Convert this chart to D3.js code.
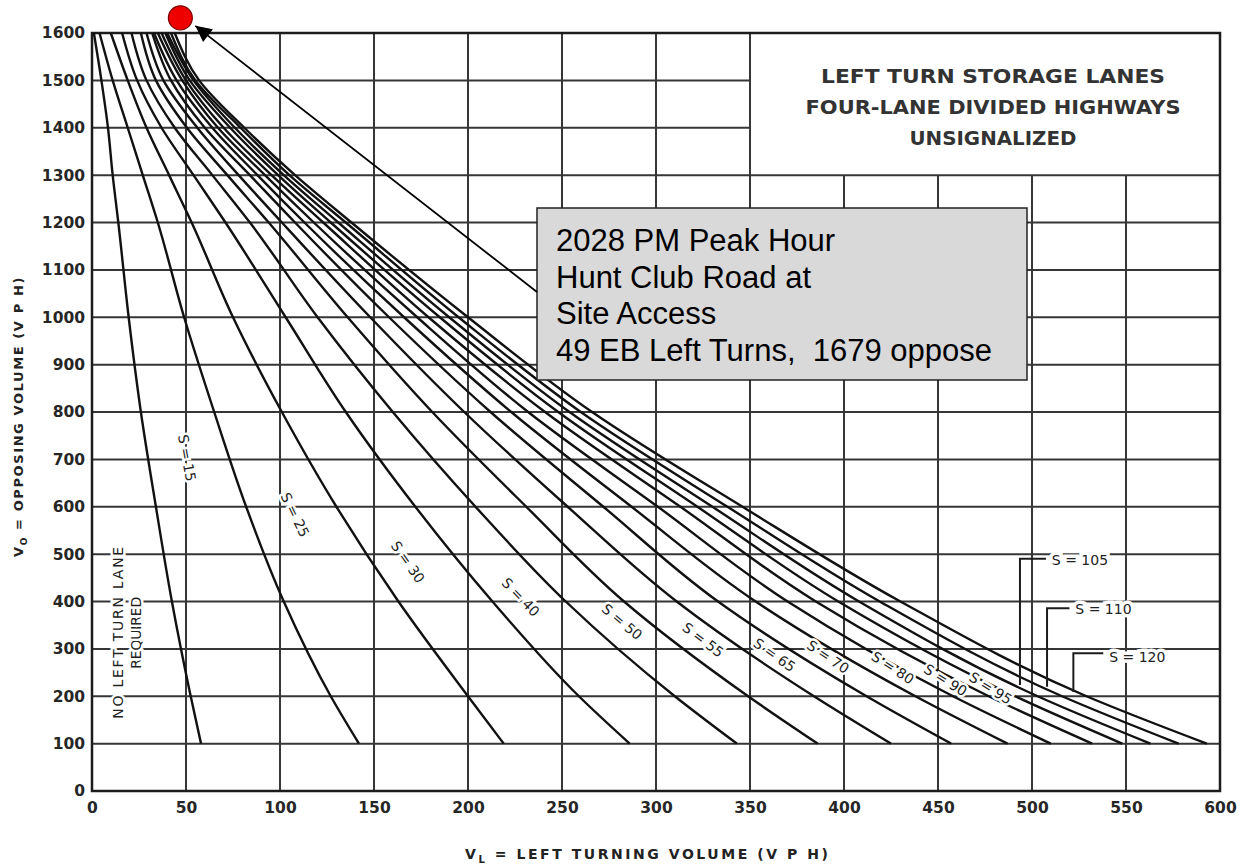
<!DOCTYPE html>
<html><head><meta charset="utf-8">
<script src="https://cdn.jsdelivr.net/npm/d3@7/dist/d3.min.js"></script>
<style>body{margin:0;background:#fff;} svg{display:block;}</style>
</head><body>
<svg id="chart" width="1241" height="867"></svg>
<script>
// ---------- data ----------
const opposingLevels = [1600, 1500, 1400, 1300, 1200, 1000, 800, 600, 400, 200, 100];
const vlBoundary = [1, 5, 8.5, 11, 14, 19.5, 26, 34, 42.5, 52.5, 58];
const vlS15  = [4, 11, 19, 27, 35, 49, 65, 82, 102, 127, 142];
const vlS25  = [10, 19, 29, 41, 53, 75, 101, 130, 163, 200, 219];
const vlS30  = [16, 24, 37, 54, 71, 103, 135, 172, 213, 259, 286];
const vlS40  = [21, 29, 44, 64, 84, 120, 160, 204, 252, 310, 343];
const vlS50  = [26, 34, 50.5, 72, 94, 136, 181, 231, 283, 349, 386];
const vlS55  = [29, 38, 56, 78, 101, 148, 198, 253, 311, 384, 425];
const vlS65  = [32, 42, 60, 84, 108, 158, 212, 272, 333, 412, 457];
const vlS70  = [33, 45, 64, 88, 113, 166, 223, 287, 353, 438, 487];
const vlS80  = [35, 48, 67, 92, 118, 173, 232, 301, 370, 458, 510];
const vlS90  = [37, 50, 70, 95.5, 123, 179, 241, 313, 385, 477, 532];
const vlS95  = [39, 52, 73.5, 99, 127, 185, 248, 322, 397, 491, 548];
const vlS105 = [40, 54, 76, 102, 131, 190, 254, 330, 408, 503, 563];
const vlS110 = [42, 55, 79, 105, 135, 195, 260, 338, 419, 516, 578];
const vlS120 = [44, 57, 81, 108, 138, 200, 266, 346, 430, 529, 593];
const curveSeries = [vlBoundary, vlS15, vlS25, vlS30, vlS40, vlS50, vlS55, vlS65, vlS70, vlS80, vlS90, vlS95, vlS105, vlS110, vlS120];

const xTickValues = [0, 50, 100, 150, 200, 250, 300, 350, 400, 450, 500, 550, 600];
const yTickValues = [0, 100, 200, 300, 400, 500, 600, 700, 800, 900, 1000, 1100, 1200, 1300, 1400, 1500, 1600];

// curve labels placed along the curves: [text, VL, VO, angle]
const slopedLabels = [
  ["S = 15", 50.5, 703, 80], ["S = 25", 108, 583, 64], ["S = 30", 168, 483, 55],
  ["S = 40", 228, 409, 46], ["S = 50", 282, 357, 40], ["S = 55", 325, 319, 37],
  ["S = 65", 363, 287, 35], ["S = 70", 391.5, 283, 34], ["S = 80", 426, 260, 33],
  ["S = 90", 454, 234, 32], ["S = 95", 478, 217, 32]
];
// bracket labels: [text, labelVL, labelVO, cornerVO(text line), legVL, legEndVO]
const bracketLabels = [
  ["S = 105", 525.5, 488, 490, 493.6, 224],
  ["S = 110", 538, 384, 386, 508, 220],
  ["S = 120", 556, 283, 291, 522, 209]
];
const studyPoint = {vl: 47, vo: 1632};
const titleLines = ["LEFT TURN STORAGE LANES", "FOUR-LANE DIVIDED HIGHWAYS", "UNSIGNALIZED"];
const noteLines = ["2028 PM Peak Hour", "Hunt Club Road at", "Site Access", "49 EB Left Turns,  1679 oppose"];

// ---------- drawing ----------
const svg = d3.select("#chart");
const x = d3.scaleLinear().domain([0, 600]).range([92, 1220]);
const y = d3.scaleLinear().domain([0, 1600]).range([791, 33]);
const ink = "#1c1c1c", gridInk = "#363636";
const font = "'DejaVu Sans', 'Liberation Sans', sans-serif";

svg.append("rect").attr("width", 1241).attr("height", 867).attr("fill", "#fff");

// grid (title region in the top-right is left blank)
const grid = svg.append("g").attr("stroke", gridInk).attr("stroke-width", 2);
grid.selectAll("line.v").data(xTickValues).join("line").attr("class", "v")
  .attr("x1", d => x(d)).attr("x2", d => x(d))
  .attr("y1", y(0)).attr("y2", d => (d > 350 && d < 600) ? y(1300) : y(1600));
grid.selectAll("line.h").data(yTickValues).join("line").attr("class", "h")
  .attr("y1", d => y(d)).attr("y2", d => y(d))
  .attr("x1", x(0)).attr("x2", d => (d > 1300 && d < 1600) ? x(350) : x(600));
svg.append("rect").attr("x", x(0)).attr("y", y(1600)).attr("width", x(600) - x(0)).attr("height", y(0) - y(1600))
  .attr("fill", "none").attr("stroke", ink).attr("stroke-width", 2.5);

// axes (labels only)
const xAxis = svg.append("g").attr("transform", `translate(0,${y(0)})`)
  .call(d3.axisBottom(x).tickValues(xTickValues).tickFormat(d3.format("d")).tickSize(0).tickPadding(11));
const yAxis = svg.append("g").attr("transform", `translate(${x(0)},0)`)
  .call(d3.axisLeft(y).tickValues(yTickValues).tickFormat(d3.format("d")).tickSize(0).tickPadding(7));
[xAxis, yAxis].forEach(g => {
  g.select(".domain").remove();
  g.selectAll("text").attr("font-family", font).attr("font-size", 15.5).attr("font-weight", "bold").attr("fill", "#262626");
});

// curves
const line = d3.line().x(d => x(d[0])).y(d => y(d[1])).curve(d3.curveMonotoneY);
svg.append("g").selectAll("path").data(curveSeries).join("path")
  .attr("d", s => line(s.map((v, i) => [v, opposingLevels[i]])))
  .attr("fill", "none").attr("stroke", "#111").attr("stroke-width", 2.4);

// sloped labels
svg.append("g").selectAll("text").data(slopedLabels).join("text")
  .attr("transform", d => `translate(${x(d[1])},${y(d[2])}) rotate(${d[3]})`)
  .attr("text-anchor", "middle").attr("dy", "0.35em")
  .attr("font-family", font).attr("font-size", 14).attr("fill", "#222")
  .attr("stroke", "#fff").attr("stroke-width", 5).attr("paint-order", "stroke")
  .text(d => d[0]);

// bracket labels
const br = svg.append("g");
bracketLabels.forEach(d => {
  br.append("path")
    .attr("d", `M${x(d[1]) - 34},${y(d[3])} H${x(d[4])} V${y(d[5])}`)
    .attr("fill", "none").attr("stroke", ink).attr("stroke-width", 2);
  br.append("text").attr("x", x(d[1])).attr("y", y(d[2])).attr("dy", "0.35em")
    .attr("text-anchor", "middle").attr("font-family", font).attr("font-size", 14).attr("fill", "#222")
    .attr("stroke", "#fff").attr("stroke-width", 7).attr("paint-order", "stroke")
    .text(d[0]);
});

// "no left turn lane required"
const nl = svg.append("g").attr("font-family", font).attr("font-size", 14).attr("fill", "#222")
  .attr("stroke", "#fff").attr("stroke-width", 5).attr("paint-order", "stroke").attr("text-anchor", "middle");
nl.append("text").attr("transform", `translate(${x(13.8)},${y(334)}) rotate(-90)`).attr("dy", "0.35em")
  .attr("textLength", 172).attr("lengthAdjust", "spacing").text("NO LEFT TURN LANE");
nl.append("text").attr("transform", `translate(${x(23.4)},${y(334)}) rotate(-90)`).attr("dy", "0.35em")
  .attr("textLength", 72).attr("lengthAdjust", "spacing").text("REQUIRED");

// title block
const tg = svg.append("g").attr("font-family", font).attr("font-size", 20).attr("font-weight", "bold")
  .attr("fill", "#333").attr("text-anchor", "middle");
const titleWidths = [344, 375, 167];
titleLines.forEach((t, i) => {
  tg.append("text").attr("x", 993).attr("y", 83 + i * 31)
    .attr("textLength", titleWidths[i]).attr("lengthAdjust", "spacingAndGlyphs").text(t);
});

// axis titles
const xt = svg.append("text").attr("x", 465).attr("y", 859).attr("font-family", font).attr("font-size", 14)
  .attr("font-weight", "bold").attr("fill", "#222").attr("letter-spacing", 2.55);
xt.append("tspan").text("V");
xt.append("tspan").attr("font-size", 10).attr("dy", 4).text("L");
xt.append("tspan").attr("dy", -4).text(" = LEFT  TURNING  VOLUME  (V P H)");
const yt = svg.append("text").attr("transform", "translate(23,557) rotate(-90)").attr("font-family", font).attr("font-size", 13)
  .attr("font-weight", "bold").attr("fill", "#222").attr("letter-spacing", 1.6);
yt.append("tspan").text("V");
yt.append("tspan").attr("font-size", 9).attr("dy", 4).text("O");
yt.append("tspan").attr("dy", -4).text(" = OPPOSING  VOLUME  (V P H)");

// note box
const box = {x0: 537, y0: 208, x1: 1027, y1: 380};
svg.append("rect").attr("x", box.x0).attr("y", box.y0).attr("width", box.x1 - box.x0).attr("height", box.y1 - box.y0)
  .attr("fill", "#d9d9d9").attr("stroke", "#222").attr("stroke-width", 1.5);
noteLines.forEach((t, i) => {
  svg.append("text").attr("x", 556).attr("y", 251 + i * 36.6).attr("font-family", "'Liberation Sans', Arial, sans-serif")
    .attr("font-size", 31).attr("fill", "#000").style("white-space", "pre").text(t);
});

// arrow and study point
svg.append("defs").append("marker").attr("id", "ah").attr("viewBox", "0 0 10 10").attr("refX", 10).attr("refY", 5)
  .attr("orient", "auto").attr("markerUnits", "userSpaceOnUse")
  .attr("markerWidth", 20).attr("markerHeight", 16)
  .append("path").attr("d", "M0,0 L10,5 L0,10 z").attr("fill", "#000");
const px = x(studyPoint.vl), py = y(studyPoint.vo);
svg.append("line").attr("x1", box.x0).attr("y1", 292).attr("x2", px + 15).attr("y2", py + 8)
  .attr("stroke", "#000").attr("stroke-width", 1.8).attr("marker-end", "url(#ah)");
svg.append("circle").attr("cx", px).attr("cy", py).attr("r", 12).attr("fill", "#ee0000").attr("stroke", "#7a0000").attr("stroke-width", 1.2);
</script>
</body></html>
